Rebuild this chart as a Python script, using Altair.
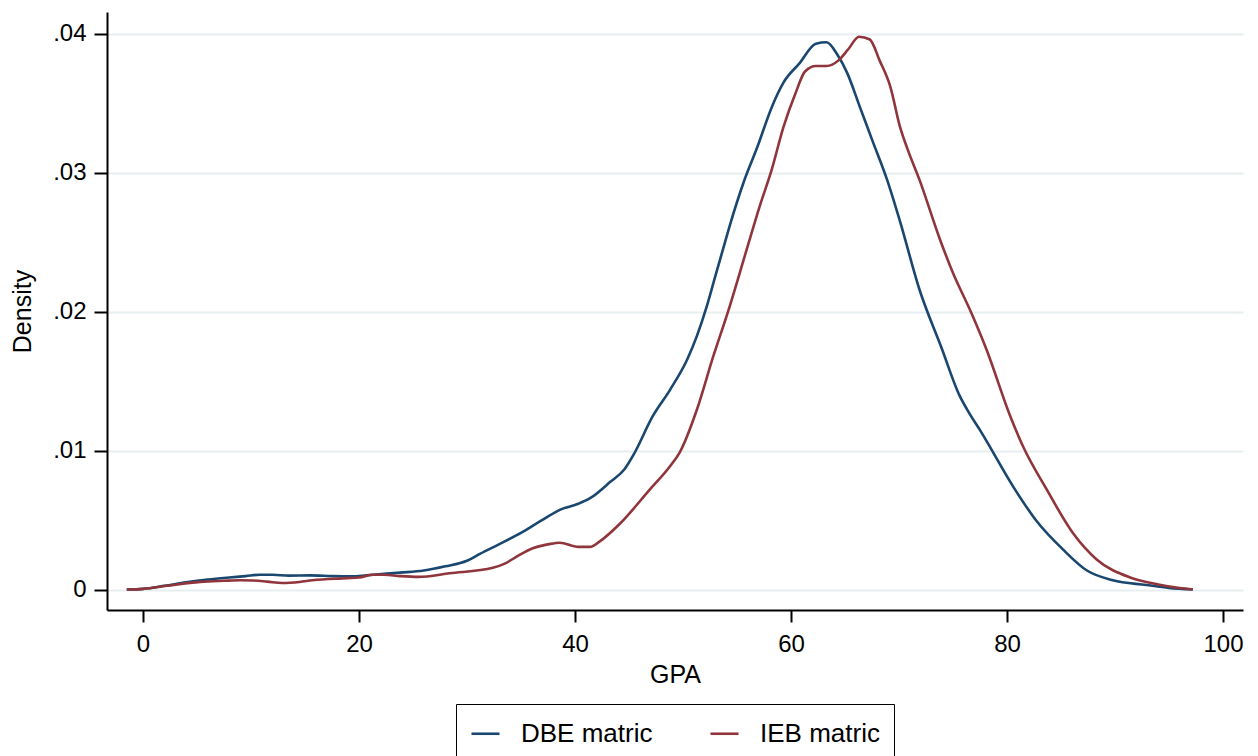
import altair as alt
import pandas as pd

# ---- data ----
series_names = ["DBE matric", "IEB matric"]
series_colors = ["#1a476f", "#90353b"]

dbe_gpa = [-1.5, 0.0, 2.0, 4.0, 6.0, 8.0, 9.5, 10.8, 12.0, 13.5, 15.5, 17.5, 19.5,
           21.3, 23.8, 26.0, 28.0, 30.0, 31.2, 33.0, 35.0, 36.9, 38.7, 40.3, 41.4,
           43.3, 44.6, 45.4, 47.2, 48.8, 50.4, 51.3, 52.2, 53.0, 53.7, 54.4, 55.6,
           56.9, 58.2, 59.3, 60.8, 62.3, 63.3, 64.3, 65.2, 66.4, 67.6, 68.9, 70.1,
           71.9, 73.9, 75.6, 76.6, 77.5, 80.6, 82.7, 85.2, 87.4, 89.8, 92.9, 95.0, 97.2]
dbe_density = [0.00003, 0.00008, 0.0003, 0.00055, 0.00075, 0.0009, 0.001, 0.0011, 0.0011,
               0.00103, 0.00105, 0.001, 0.00098, 0.0011, 0.00125, 0.0014, 0.0017, 0.0021,
               0.0026, 0.0033, 0.0041, 0.005, 0.0058, 0.0062, 0.0066, 0.0078, 0.0087,
               0.0097, 0.0125, 0.0144, 0.0166, 0.0183, 0.0204, 0.0226, 0.0245, 0.0264,
               0.0293, 0.0319, 0.0347, 0.0365, 0.0379, 0.0393, 0.0394, 0.0385, 0.0372,
               0.0347, 0.0322, 0.0295, 0.0265, 0.0216, 0.0175, 0.0140, 0.0126, 0.0115,
               0.0074, 0.005, 0.0029, 0.0014, 0.0007, 0.00036, 0.00015, 0.00004]

ieb_gpa = [-1.5, 0.0, 2.2, 5.3, 7.5, 9.0, 10.2, 11.5, 12.9, 14.5, 15.7, 18.9, 20.0,
           21.3, 22.3, 23.8, 25.5, 28.4, 32.4, 33.5, 34.6, 36.1, 37.6, 38.6, 40.3,
           41.4, 42.3, 44.2, 46.9, 48.8, 49.7, 51.3, 52.8, 54.2, 55.9, 57.1, 58.2,
           59.3, 60.4, 61.3, 62.3, 63.3, 64.4, 65.3, 66.3, 67.3, 68.2, 69.2, 70.1,
           70.8, 71.9, 73.8, 75.0, 76.6, 78.1, 80.3, 81.5, 83.7, 86.1, 88.3, 91.4,
           94.0, 96.0, 97.2]
ieb_density = [0.00003, 0.00008, 0.0003, 0.00058, 0.00066, 0.0007, 0.00068, 0.0006,
               0.0005, 0.00058, 0.0007, 0.00085, 0.0009, 0.0011, 0.0011, 0.001, 0.00094,
               0.0012, 0.0016, 0.0019, 0.0024, 0.003, 0.0033, 0.0034, 0.0031, 0.0031,
               0.0035, 0.0048, 0.0072, 0.0089, 0.0099, 0.013, 0.0168, 0.0201, 0.0245,
               0.0276, 0.0302, 0.0333, 0.0357, 0.0373, 0.0377, 0.0377, 0.0381, 0.0389,
               0.0398, 0.0396, 0.0381, 0.0362, 0.0333, 0.0317, 0.0295, 0.0252, 0.0228,
               0.0201, 0.0173, 0.0125, 0.0103, 0.0072, 0.0041, 0.0022, 0.0009, 0.0004,
               0.00014, 0.00005]

x_ticks = [0, 20, 40, 60, 80, 100]
y_ticks = [0, 0.01, 0.02, 0.03, 0.04]

df = pd.concat([
    pd.DataFrame({"gpa": dbe_gpa, "density": dbe_density, "series": series_names[0]}),
    pd.DataFrame({"gpa": ieb_gpa, "density": ieb_density, "series": series_names[1]}),
])

FONT = "Liberation Sans"

chart = alt.Chart(df).mark_line(strokeWidth=2.6, interpolate="monotone", clip=True).encode(
    x=alt.X("gpa:Q",
            scale=alt.Scale(domain=[-3.33, 101.85], nice=False, zero=False),
            axis=alt.Axis(title="GPA", values=x_ticks, grid=False, format="d",
                          domainColor="black", domainWidth=2, tickColor="black",
                          tickWidth=2, tickSize=12, labelPadding=10,
                          labelFontSize=24, labelColor="black", titleFontSize=25,
                          titleFontWeight="normal", titleColor="black",
                          titleX=568, titleY=64, titleBaseline="middle")),
    y=alt.Y("density:Q",
            scale=alt.Scale(domain=[-0.00144, 0.04158], nice=False, zero=False),
            axis=alt.Axis(title="Density", values=y_ticks, grid=True,
                          gridColor="#e6eef0", gridWidth=2,
                          labelExpr="datum.value == 0 ? '0' : replace(format(datum.value, '.2f'), '0.', '.')",
                          domainColor="black", domainWidth=2, tickColor="black",
                          tickWidth=2, tickSize=13, labelPadding=8,
                          labelFontSize=24, labelColor="black", titleFontSize=25,
                          titleFontWeight="normal", titleColor="black",
                          titleX=-85, titleY=299, titleAngle=270,
                          titleBaseline="middle", titleAlign="center")),
    color=alt.Color("series:N",
                    scale=alt.Scale(domain=series_names, range=series_colors),
                    legend=alt.Legend(title=None, orient="none", legendX=349, legendY=692,
                                      direction="horizontal", symbolType="stroke",
                                      symbolSize=784, symbolStrokeWidth=2.6,
                                      labelFontSize=26, labelColor="black", labelOffset=20,
                                      columnPadding=52, padding=14,
                                      strokeColor="black")),
).properties(
    width=1136, height=598,
    autosize=alt.AutoSizeParams(type="none"),
    padding={"left": 99, "top": 4, "right": 7, "bottom": 150},
).configure(
    font=FONT, background="white"
).configure_view(stroke=None)

chart.save("out.html", embed_options={"renderer": "svg", "actions": False})
